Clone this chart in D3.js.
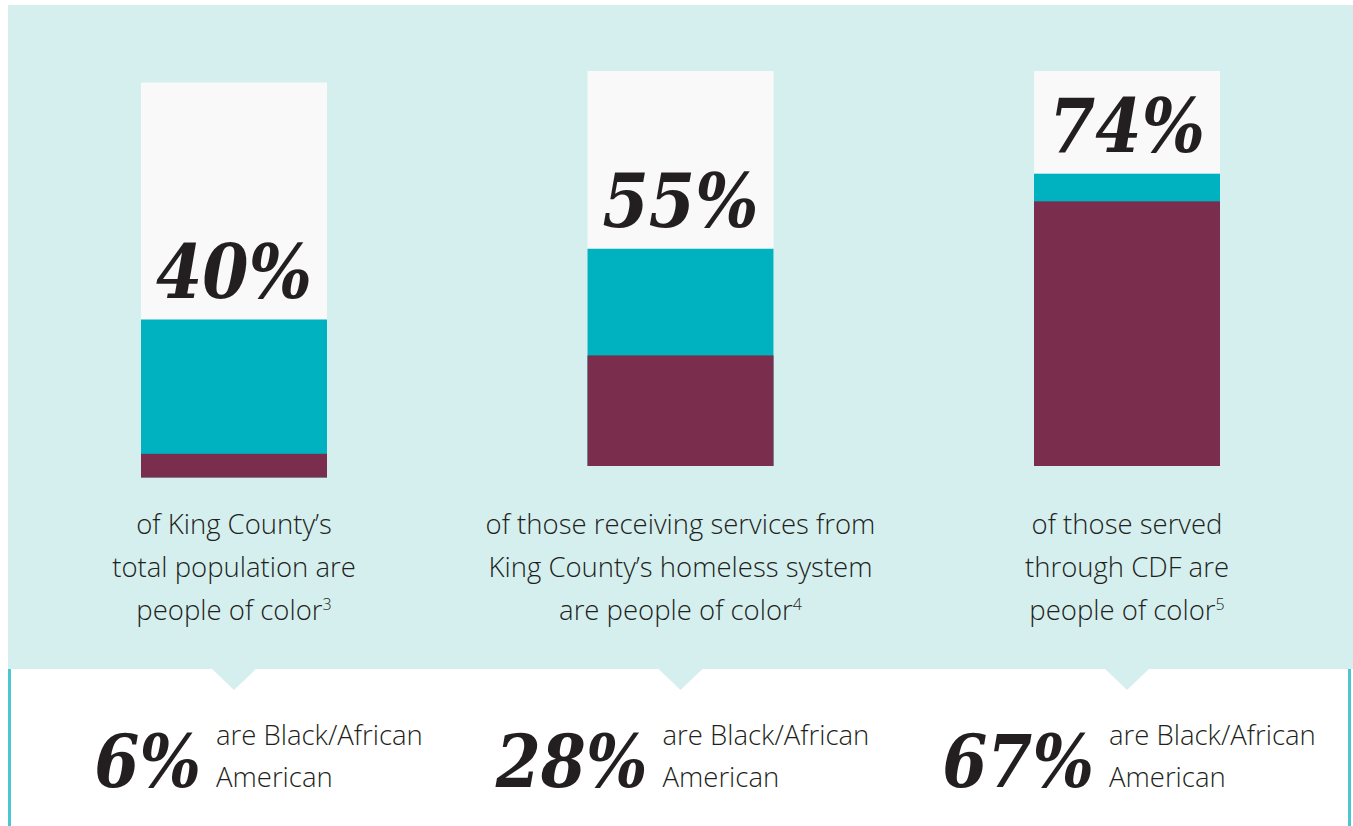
<!DOCTYPE html>
<html>
<head>
<meta charset="utf-8">
<script src="https://cdn.jsdelivr.net/npm/d3@7"></script>
<style>
  html, body { margin: 0; padding: 0; background: #ffffff; }
  svg { display: block; }
</style>
</head>
<body>
<svg id="chart" width="1353" height="826"></svg>
<script>
// ---- data ----
const categories = ["King County total population", "King County homeless system", "Served through CDF"];
const peopleOfColor = [40, 55, 74];            // % people of color (teal + maroon)
const blackAfricanAmerican = [6, 28, 67];      // % Black/African American (maroon)
const captionLines = [
  ["of King County\u2019s", "total population are", "people of color"],
  ["of those receiving services from", "King County\u2019s homeless system", "are people of color"],
  ["of those served", "through CDF are", "people of color"]
];
const footnotes = ["3", "4", "5"];
const subLabelLines = ["are Black/African", "American"];

// ---- style ----
const colBg = "#d5efef";
const colTeal = "#00b2c0";
const colMaroon = "#7b2d4d";
const colEmpty = "#f9f9f9";
const colText = "#231f20";
const serif = "'DejaVu Serif Condensed', 'DejaVu Serif', 'Liberation Serif', serif";
const sans = "'Open Sans', 'Noto Sans', sans-serif";

const svg = d3.select("#chart");
const W = 1353, H = 826;

// backgrounds
svg.append("rect").attr("x", 8).attr("y", 5).attr("width", W - 8).attr("height", 664).attr("fill", colBg);
svg.append("rect").attr("x", 8).attr("y", 669).attr("width", 3).attr("height", H - 669).attr("fill", "#4cc6d0");
svg.append("rect").attr("x", 1348).attr("y", 669).attr("width", 3).attr("height", H - 669).attr("fill", "#4cc6d0");

// scales
const x = d3.scalePoint().domain(categories).range([234, 1127]);
const barW = 186;
const barH = 395;
const y = d3.scaleLinear().domain([0, 100]).range([barH, 0]);
const barBottoms = [477.5, 466, 466];

const groups = svg.selectAll("g.bar")
  .data(categories)
  .join("g")
  .attr("class", "bar")
  .attr("transform", (d, i) => `translate(${x(d)},${barBottoms[i] - barH})`);

// full (100%) column
groups.append("rect")
  .attr("x", -barW / 2).attr("y", y(100))
  .attr("width", barW).attr("height", y(0) - y(100))
  .attr("fill", colEmpty);

// people of color
groups.append("rect")
  .attr("x", -barW / 2).attr("y", (d, i) => y(peopleOfColor[i]))
  .attr("width", barW).attr("height", (d, i) => y(0) - y(peopleOfColor[i]))
  .attr("fill", colTeal);

// Black/African American
groups.append("rect")
  .attr("x", -barW / 2).attr("y", (d, i) => y(blackAfricanAmerican[i]))
  .attr("width", barW).attr("height", (d, i) => y(0) - y(blackAfricanAmerican[i]))
  .attr("fill", colMaroon);

// big percentage labels
groups.append("text")
  .attr("x", 0).attr("y", (d, i) => y(peopleOfColor[i]) - 22)
  .attr("text-anchor", "middle")
  .attr("font-family", serif).attr("font-style", "italic").attr("font-weight", "bold")
  .attr("font-size", 74).attr("fill", colText)
  .text((d, i) => peopleOfColor[i] + "%");

// captions
const capG = svg.selectAll("g.cap")
  .data(categories)
  .join("g")
  .attr("class", "cap")
  .attr("transform", d => `translate(${x(d)},0)`);

capG.each(function (d, i) {
  const g = d3.select(this);
  captionLines[i].forEach((line, k) => {
    const t = g.append("text")
      .attr("x", 0).attr("y", 534 + k * 43)
      .attr("text-anchor", "middle")
      .attr("font-family", sans).attr("font-size", 27.5).attr("font-weight", 300)
      .attr("fill", colText);
    t.append("tspan").text(line);
    if (k === captionLines[i].length - 1) {
      t.append("tspan").attr("font-size", 16).attr("dy", -10).text(footnotes[i]);
    }
  });
});

// pointers
svg.selectAll("path.pointer")
  .data(categories)
  .join("path")
  .attr("class", "pointer")
  .attr("d", d => `M${x(d) - 23},668 L${x(d) + 23},668 L${x(d)},690 Z`)
  .attr("fill", colBg);

// bottom stats
const sub = svg.selectAll("g.sub")
  .data(categories)
  .join("g")
  .attr("class", "sub")
  .attr("transform", d => `translate(${x(d)},0)`);

sub.append("text")
  .attr("x", -33).attr("y", 787)
  .attr("text-anchor", "end")
  .attr("font-family", serif).attr("font-style", "italic").attr("font-weight", "bold")
  .attr("font-size", 72).attr("fill", colText)
  .text((d, i) => blackAfricanAmerican[i] + "%");

sub.each(function () {
  const g = d3.select(this);
  subLabelLines.forEach((line, k) => {
    g.append("text")
      .attr("x", -18).attr("y", 745 + k * 42)
      .attr("font-family", sans).attr("font-size", 27.5).attr("font-weight", 300)
      .attr("fill", colText)
      .text(line);
  });
});
</script>
</body>
</html>
